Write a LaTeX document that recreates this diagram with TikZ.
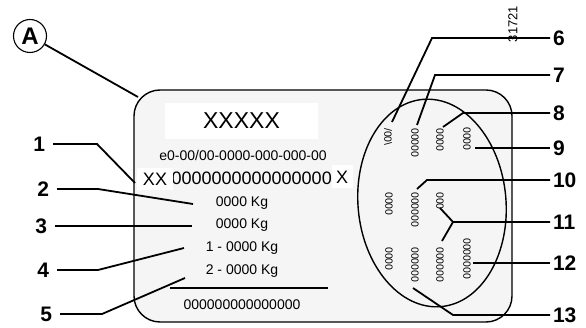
\documentclass[tikz,border=0pt]{standalone}
\usepackage{fontspec}
\setmainfont{Liberation Sans}
\definecolor{plategray}{HTML}{F5F5F5}
\begin{document}
\begin{tikzpicture}[x=1pt,y=-1pt,
  lead/.style={line width=1.8pt},
  numl/.style={font=\fontsize{21}{21}\selectfont\bfseries, inner sep=0pt, outer sep=8pt, anchor=east},
  numr/.style={font=\fontsize{21}{21}\selectfont\bfseries, inner sep=0pt, outer sep=3pt, anchor=west},
  ptxt/.style={font=\fontsize{14}{14}\selectfont, inner sep=0pt},
  vt/.style={font=\fontsize{10.5}{10.5}\selectfont, rotate=-90, inner sep=0pt, anchor=west},
  wbox/.style={fill=white, inner sep=0pt}]
\useasboundingbox (0,0) rectangle (586,328);

% plate
\draw[line width=1.4pt, fill=plategray, rounded corners=26pt] (134,90) rectangle (512,322);
\coordinate (pc) at (138,97);

% label A
\node[draw, circle, line width=1.1pt, minimum size=33pt, inner sep=0pt,
  font=\fontsize{24}{24}\selectfont\bfseries] (A) at (30,36) {A};
\draw[lead] (A) -- (pc);

% plate texts
\node[wbox, minimum width=153pt, minimum height=36pt, font=\fontsize{23}{23}\selectfont] (hdr) at (241.5,121) {XXXXX};
\node[ptxt] (code) at (243,155) {e0-00/00-0000-000-000-00};
\node[inner sep=0pt, anchor=east, font=\fontsize{18}{18}\selectfont] (vin) at (332,178) {0000000000000000};
\node[wbox, minimum width=36pt, minimum height=22pt, font=\fontsize{18}{18}\selectfont] (xx) at (155,179) {XX};
\node[wbox, minimum width=21pt, minimum height=23pt, font=\fontsize{18}{18}\selectfont] (xr) at (342,177) {X};
\node[ptxt] (k1) at (242,203) {0000 Kg};
\node[ptxt] (k2) at (242,225) {0000 Kg};
\node[ptxt] (k3) at (242,248) {1 - 0000 Kg};
\node[ptxt] (k4) at (242,271) {2 - 0000 Kg};
\coordinate (sl) at (170,288);
\coordinate (sr) at (328,288);
\draw[line width=1.2pt] (sl) -- (sr);
\node[ptxt] (bot) at (242,305) {000000000000000};

% ellipse area
\draw[line width=1.4pt, rotate around={5:(432,203)}] (432,203) ellipse [x radius=74pt, y radius=104pt];

\node[vt] (r1a) at (388,128) {/00\textbackslash};
\node[vt] (r1b) at (415,128) {00000};
\node[vt] (r1c) at (440,128) {0000};
\node[vt] (r1d) at (467,127) {0000};
\node[vt] (r2a) at (389,192) {0000};
\node[vt] (r2b) at (415,192) {000000};
\node[vt] (r2c) at (440,192) {000};
\node[vt] (r3a) at (389,247) {0000};
\node[vt] (r3b) at (415,247) {000000};
\node[vt] (r3c) at (440,247) {000000};
\node[vt] (r3d) at (467,238) {0000000};

% reference code
\node[font=\fontsize{13}{13}\selectfont, rotate=90, inner sep=0pt] (ref) at (513,24) {31721};

% left labels
\node[numl] (n1) at (53,144) {1};
\node[numl] (n2) at (57,189) {2};
\node[numl] (n3) at (55,226) {3};
\node[numl] (n4) at (57,270) {4};
\node[numl] (n5) at (60,314) {5};
\coordinate (t1) at (135,183);
\coordinate (t2) at (193,204);
\coordinate (t3) at (192,226);
\coordinate (t4) at (184,248);
\coordinate (t5) at (185,278);
\draw[lead] (n1.east) -- ++(44,0) -- (t1);
\draw[lead] (n2.east) -- ++(41,0) -- (t2);
\draw[lead] (n3.east) -- (t3);
\draw[lead] (n4.east) -- ++(41,0) -- (t4);
\draw[lead] (n5.east) -- ++(42,0) -- (t5);

% right labels
\node[numr] (n6) at (550,38) {6};
\node[numr] (n7) at (550,75) {7};
\node[numr] (n8) at (550,113) {8};
\node[numr] (n9) at (550,148) {9};
\node[numr] (n10) at (550,180) {10};
\node[numr] (n11) at (550,222) {11};
\node[numr] (n12) at (550,263) {12};
\node[numr] (n13) at (550,315) {13};
\coordinate (t6) at (392,122);
\coordinate (t7) at (417,125);
\coordinate (t8) at (443,127);
\coordinate (t9) at (475,148);
\coordinate (t10) at (417,189);
\coordinate (f11) at (453,222);
\coordinate (t11a) at (440,208);
\coordinate (t11b) at (442,241);
\coordinate (t12) at (473,263);
\coordinate (t13) at (413,288);
\draw[lead] (n6.west) -- (432,38) -- (t6);
\draw[lead] (n7.west) -- (435,75) -- (t7);
\draw[lead] (n8.west) -- (463,113) -- (t8);
\draw[lead] (n9.west) -- (t9);
\draw[lead] (n10.west) -- (427,180) -- (t10);
\draw[lead] (n11.west) -- (f11) -- (t11a);
\draw[lead] (f11) -- (t11b);
\draw[lead] (n12.west) -- (t12);
\draw[lead] (n13.west) -- (453,315) -- (t13);
\end{tikzpicture}
\end{document}
